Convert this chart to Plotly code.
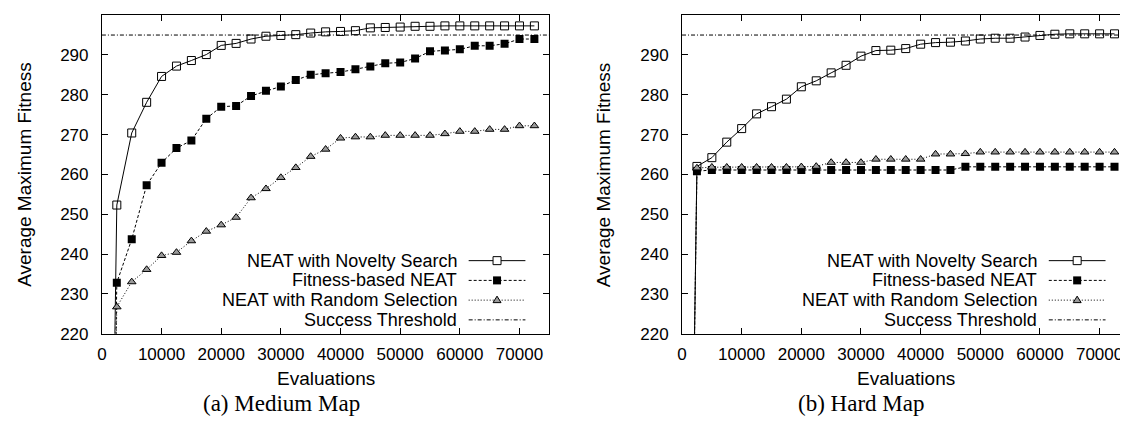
import plotly.graph_objects as go

W, H = 1128, 435
OFFX, OFFY = 8, 8  # default page margin around the figure in the photographed window

# ---------------- data ----------------
evaluations = [0, 2500, 5000, 7500, 10000, 12500, 15000, 17500, 20000, 22500, 25000,
               27500, 30000, 32500, 35000, 37500, 40000, 42500, 45000, 47500, 50000,
               52500, 55000, 57500, 60000, 62500, 65000, 67500, 70000, 72500]

medium_novelty = [0, 252.3, 270.4, 278.1, 284.6, 287.2, 288.6, 290.1, 292.4, 292.9, 294.0,
                  294.7, 294.9, 295.1, 295.5, 295.8, 295.9, 296.1, 296.8, 296.9, 297.0,
                  297.2, 297.2, 297.3, 297.3, 297.3, 297.3, 297.3, 297.3, 297.3]
medium_fitness = [0, 232.8, 243.7, 257.3, 262.9, 266.6, 268.5, 274.0, 277.0, 277.2, 279.7,
                  281.0, 282.1, 283.7, 285.0, 285.4, 285.7, 286.4, 287.1, 287.9, 288.1,
                  289.1, 290.9, 291.1, 291.4, 292.3, 292.3, 292.8, 294.0, 294.0]
medium_random = [0, 226.7, 233.0, 236.1, 239.6, 240.4, 243.3, 245.7, 247.3, 249.2, 254.1,
                 256.4, 259.2, 261.7, 264.5, 266.3, 269.1, 269.4, 269.4, 269.8, 269.8,
                 269.8, 269.8, 270.2, 270.8, 270.8, 271.3, 271.3, 272.2, 272.2]

hard_novelty = [0, 262.0, 264.2, 268.1, 271.5, 275.2, 277.0, 278.9, 282.0, 283.5, 285.5,
                287.4, 289.7, 291.1, 291.2, 291.6, 292.7, 293.1, 293.2, 293.5, 294.0,
                294.2, 294.2, 294.5, 294.9, 295.2, 295.3, 295.3, 295.3, 295.3]
hard_fitness = [0, 260.8, 261.1, 261.1, 261.1, 261.1, 261.1, 261.1, 261.1, 261.1, 261.1,
                261.1, 261.1, 261.1, 261.1, 261.1, 261.1, 261.1, 261.1, 261.9, 261.9,
                261.9, 261.9, 261.9, 261.9, 261.9, 261.9, 261.9, 261.9, 261.9]
hard_random = [0, 261.6, 261.8, 261.8, 261.8, 261.8, 261.8, 261.8, 261.9, 262.0, 263.0,
               263.0, 263.0, 263.8, 263.8, 263.8, 263.8, 265.1, 265.1, 265.2, 265.6,
               265.6, 265.6, 265.6, 265.6, 265.6, 265.6, 265.6, 265.6, 265.6]

success_threshold = 295
threshold_span = [0, 75000]

series_names = ["NEAT with Novelty Search", "Fitness-based NEAT",
                "NEAT with Random Selection", "Success Threshold"]
captions = ["(a) Medium Map", "(b) Hard Map"]
x_title = "Evaluations"
y_title = "Average Maximum Fitness"
y_ticks = [220, 230, 240, 250, 260, 270, 280, 290, 300]
x_ticks = [0, 10000, 20000, 30000, 40000, 50000, 60000, 70000]

# ---------------- style ----------------
SANS = "Liberation Sans, Arial, Helvetica, sans-serif"
SERIF = "Liberation Serif, Times New Roman, serif"
styles = [
    dict(line=dict(color="black", width=1, dash="solid"),
         marker=dict(symbol="square-open", size=8, color="black", line=dict(width=1, color="black"))),
    dict(line=dict(color="black", width=1, dash="3px,2px"),
         marker=dict(symbol="square", size=8, color="black", line=dict(width=0))),
    dict(line=dict(color="black", width=1, dash="1px,2px"),
         marker=dict(symbol="triangle-up", size=7.5, color="#9a9a9a", line=dict(width=1, color="black"))),
]
thr_dash = "4px,2px,1px,2px"


def px(x):
    return (x - OFFX) / W


def py(y):
    return 1 - (y - OFFY) / H


fig = go.Figure()

panels = [
    ("x", "y", [medium_novelty, medium_fitness, medium_random]),
    ("x2", "y2", [hard_novelty, hard_fitness, hard_random]),
]
for xa, ya, sets in panels:
    fig.add_trace(go.Scatter(x=threshold_span, y=[success_threshold, success_threshold],
                             mode="lines", xaxis=xa, yaxis=ya, showlegend=False,
                             line=dict(color="black", width=1, dash=thr_dash)))
    for vals, st, name in zip(sets, styles, series_names):
        fig.add_trace(go.Scatter(x=evaluations, y=vals, mode="lines+markers", name=name,
                                 xaxis=xa, yaxis=ya, showlegend=False,
                                 line=st["line"], marker=st["marker"], cliponaxis=True))

# plot areas in window pixels
left_box = (97.3, 546.7)
right_box = (680.0, 1128.0)
top_px, bot_px = 15.3, 341.3
x_per_px = 75000 / (left_box[1] - left_box[0])

axis_common = dict(showline=True, linecolor="black", linewidth=1, mirror="ticks",
                   ticks="inside", ticklen=6, tickcolor="black", tickwidth=1,
                   showgrid=False, zeroline=False,
                   tickfont=dict(family=SANS, size=17, color="black"))

fig.update_layout(
    width=W, height=H,
    margin=dict(l=0, r=0, t=0, b=0),
    paper_bgcolor="white", plot_bgcolor="white",
    xaxis=dict(domain=[px(left_box[0]), px(left_box[1])], range=[0, 75000],
               tickvals=x_ticks, tickformat="d", anchor="y", ticklabelstandoff=5, **axis_common),
    yaxis=dict(domain=[py(bot_px), py(top_px)], range=[220, 300], tickvals=y_ticks,
               anchor="x", ticklabelstandoff=9, **axis_common),
    xaxis2=dict(domain=[px(right_box[0]), px(right_box[1])],
                range=[0, x_per_px * (right_box[1] - right_box[0])],
                tickvals=x_ticks, tickformat="d", anchor="y2", ticklabelstandoff=5, **axis_common),
    yaxis2=dict(domain=[py(bot_px), py(top_px)], range=[220, 300], tickvals=y_ticks,
                anchor="x2", ticklabelstandoff=9, **axis_common),
)

annotations = []
shapes = []

for (x0, x1), cap, cap_x, ytitle_x in [(left_box, captions[0], 278, 19.5),
                                        ((680.0, 1129.4), captions[1], 860, 601.5)]:
    cx = (x0 + x1) / 2
    annotations.append(dict(text=x_title, x=px(cx), y=py(387.5), xref="paper", yref="paper",
                            showarrow=False, xanchor="center", yanchor="middle",
                            font=dict(family=SANS, size=19, color="black")))
    annotations.append(dict(text=y_title, x=px(ytitle_x), y=py((top_px + bot_px) / 2),
                            xref="paper", yref="paper", textangle=-90, showarrow=False,
                            xanchor="center", yanchor="middle",
                            font=dict(family=SANS, size=19, color="black")))
    annotations.append(dict(text=cap, x=px(cap_x), y=py(412.5), xref="paper", yref="paper",
                            showarrow=False, xanchor="center", yanchor="middle",
                            font=dict(family=SERIF, size=23, color="black")))

    # legend in gnuplot style: right-aligned label, then the line sample
    text_right = x1 - 91
    s0, s1 = x1 - 81, x1 - 24
    smid = (s0 + s1) / 2
    rows = [266.6, 286.8, 307.0, 327.2]
    dashes = ["solid", "3px,2px", "1px,2px", thr_dash]
    for i, (name, yy) in enumerate(zip(series_names, rows)):
        annotations.append(dict(text=name, x=px(text_right), y=py(yy), xref="paper", yref="paper",
                                showarrow=False, xanchor="right", yanchor="middle",
                                font=dict(family=SANS, size=18, color="black")))
        shapes.append(dict(type="line", xref="paper", yref="paper", x0=px(s0), x1=px(s1),
                           y0=py(yy), y1=py(yy), line=dict(color="black", width=1, dash=dashes[i])))
    shapes.append(dict(type="rect", xref="paper", yref="paper", xsizemode="pixel", ysizemode="pixel",
                       xanchor=px(smid), yanchor=py(rows[0]), x0=-4, x1=4, y0=-4, y1=4,
                       line=dict(color="black", width=1), fillcolor="white"))
    shapes.append(dict(type="rect", xref="paper", yref="paper", xsizemode="pixel", ysizemode="pixel",
                       xanchor=px(smid), yanchor=py(rows[1]), x0=-4, x1=4, y0=-4, y1=4,
                       line=dict(color="black", width=0), fillcolor="black"))
    shapes.append(dict(type="path", xref="paper", yref="paper", xsizemode="pixel", ysizemode="pixel",
                       xanchor=px(smid), yanchor=py(rows[2]), path="M-4,-2.5 L4,-2.5 L0,4 Z",
                       line=dict(color="black", width=1), fillcolor="#9a9a9a"))

fig.update_layout(annotations=annotations, shapes=shapes)
fig.write_html("out.html")
